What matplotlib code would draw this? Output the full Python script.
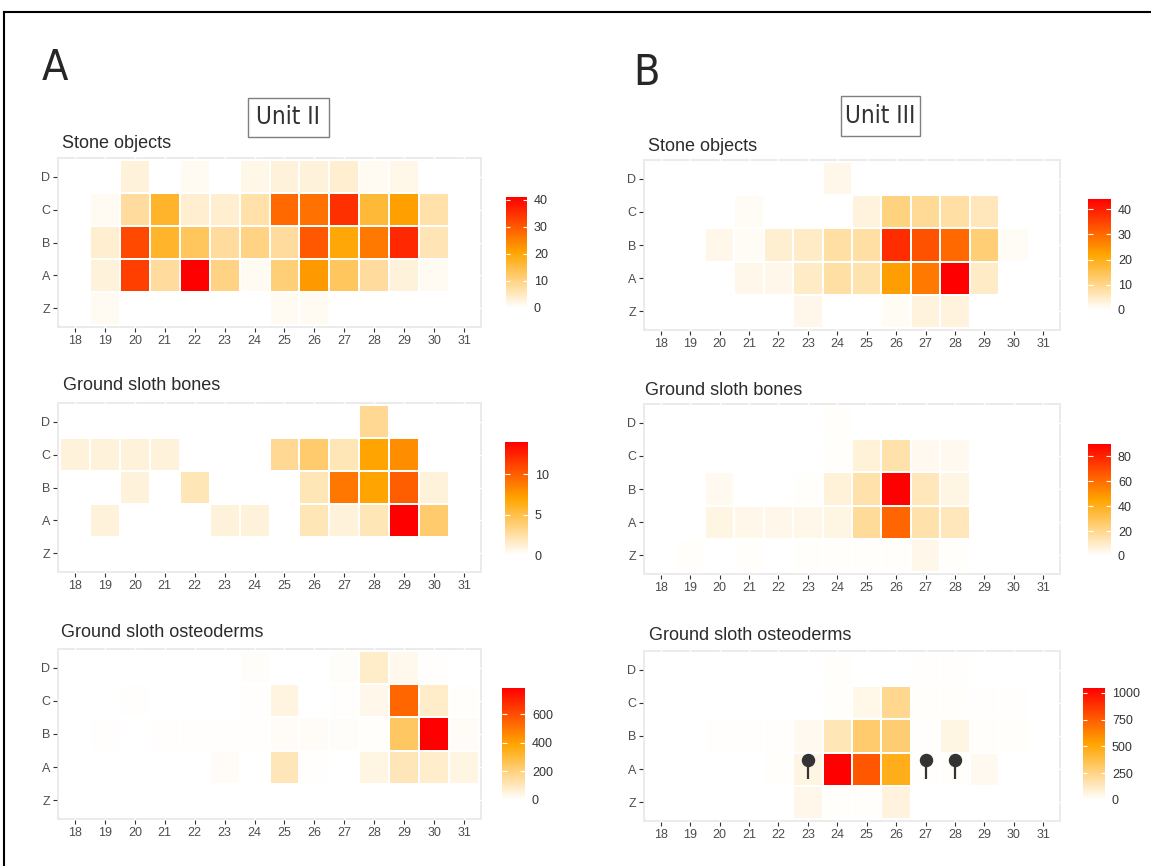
import numpy as np
import matplotlib
matplotlib.use("Agg")
import matplotlib.pyplot as plt
from matplotlib.colors import LinearSegmentedColormap
from matplotlib.patches import Rectangle
from matplotlib.lines import Line2D

plt.rcParams['font.family'] = ['Liberation Sans', 'DejaVu Sans']

#################  Data (rows top -> bottom: D, C, B, A, Z)  #################

cols = list(range(18, 32))
rows = ["Z", "A", "B", "C", "D"]   # bottom -> top on the axis

stone_II = [
    [0, 0, 3, 0, 1, 0, 2, 3, 3, 4, 1, 2, 0, 0],
    [0, 1, 8, 17, 4, 4, 7, 28, 27, 35, 16, 21, 7, 0],
    [0, 4, 32, 17, 13, 8, 10, 8, 30, 20, 26, 36, 6, 0],
    [0, 3, 33, 8, 41, 10, 1, 11, 22, 13, 8, 3, 1, 0],
    [0, 1, 0, 0, 0, 0, 0, 1, 1, 0, 0, 0, 0, 0],
]
bones_II = [
    [0, 0, 0, 0, 0, 0, 0, 0, 0, 0, 3, 0, 0, 0],
    [1, 1, 1, 1, 0, 0, 0, 3, 4, 2, 7, 8, 0, 0],
    [0, 0, 1, 0, 2, 0, 0, 0, 2, 9, 7, 10, 1, 0],
    [0, 1, 0, 0, 0, 1, 1, 0, 2, 1, 2, 14, 4, 0],
    [0, 0, 0, 0, 0, 0, 0, 0, 0, 0, 0, 0, 0, 0],
]
osteo_II = [
    [0, 0, 0, 0, 0, 0, 10, 0, 0, 10, 85, 30, 5, 0],
    [0, 0, 5, 0, 0, 0, 5, 50, 0, 5, 35, 540, 85, 8],
    [0, 5, 0, 5, 5, 5, 5, 15, 15, 10, 8, 245, 785, 15],
    [0, 3, 0, 0, 0, 15, 0, 110, 5, 0, 45, 110, 80, 45],
    [0, 0, 0, 0, 0, 0, 0, 0, 0, 0, 0, 0, 0, 0],
]
stone_III = [
    [0, 0, 0, 0, 0, 0, 2, 0, 0, 0, 0, 0, 0, 0],
    [0, 0, 0, 1, 0, 0, 0, 3, 11, 9, 8, 6, 0, 0],
    [0, 0, 2, 1, 4, 5, 8, 8, 38, 33, 30, 12, 1, 0],
    [0, 0, 0, 2, 2, 5, 8, 7, 23, 28, 44, 5, 0, 0],
    [0, 0, 0, 0, 0, 2, 0, 0, 1, 3, 3, 0, 0, 0],
]
bones_III = [
    [0, 0, 0, 0, 0, 0, 1, 0, 0, 0, 0, 0, 0, 0],
    [0, 0, 0, 0, 0, 0, 1, 7, 15, 3, 3, 0, 0, 0],
    [0, 0, 3, 0, 0, 1, 7, 15, 90, 12, 5, 0, 0, 0],
    [0, 0, 5, 4, 4, 4, 5, 18, 62, 15, 12, 0, 0, 0],
    [0, 1, 0, 1, 0, 1, 1, 1, 1, 4, 1, 0, 0, 0],
]
osteo_III = [
    [0, 0, 0, 0, 0, 0, 10, 0, 0, 5, 5, 0, 0, 0],
    [0, 0, 0, 0, 0, 0, 10, 50, 230, 10, 10, 5, 5, 0],
    [0, 0, 5, 5, 5, 35, 150, 300, 290, 8, 60, 10, 10, 0],
    [0, 0, 0, 0, 10, 60, 1045, 770, 470, 8, 10, 35, 0, 0],
    [0, 0, 0, 0, 0, 45, 10, 10, 70, 0, 0, 0, 0, 0],
]

cb_ticks_stone_II = [0, 10, 20, 30, 40]
cb_ticks_bones_II = [0, 5, 10]
cb_ticks_osteo_II = [0, 200, 400, 600]
cb_ticks_stone_III = [0, 10, 20, 30, 40]
cb_ticks_bones_III = [0, 20, 40, 60, 80]
cb_ticks_osteo_III = [0, 250, 500, 750, 1000]

pin_cols = [23, 27, 28]   # markers in Unit III osteoderms, row A

#################  Figure  #################

W, H = 1151, 866
fig = plt.figure(figsize=(W / 100, H / 100), dpi=100)
cmap = LinearSegmentedColormap.from_list("wor", [(0, "white"), (0.5, "#FFA500"), (1, "#FF0000")])


def px_axes(l, t, r, b):
    return fig.add_axes([l / W, 1 - b / H, (r - l) / W, (b - t) / H])


def heat(box, cbox, data, ticks, title, tpos):
    ax = px_axes(*box)
    z = np.flipud(np.array(data, dtype=float))
    xe = np.arange(17.5, 32, 1)
    ye = np.arange(0.5, 6, 1)
    ax.set_facecolor("#EBEBEB")
    ax.set_axisbelow(True)
    ax.grid(True, color="white", lw=1)
    m = ax.pcolormesh(xe, ye, z, cmap=cmap, vmin=0, vmax=z.max(),
                      edgecolors="white", linewidth=0.25)
    ax.set_xlim(17.4, 31.6)
    ax.set_ylim(0.4, 5.6)
    ax.set_xticks(cols)
    ax.set_yticks(range(1, 6))
    ax.set_yticklabels(rows)
    for s in ax.spines.values():
        s.set_visible(False)
    ax.tick_params(length=3, color="#333333", labelcolor="#4D4D4D", labelsize=9, pad=2)
    fig.text(tpos[0] / W, 1 - tpos[1] / H, title, fontsize=13, color="#2B2B2B", va="baseline")

    cax = px_axes(*cbox)
    cb = fig.colorbar(m, cax=cax)
    cb.outline.set_visible(False)
    cb.set_ticks(ticks)
    cax.tick_params(length=0, labelsize=9, labelcolor="#333333", pad=5)
    cax.hlines(ticks, 0, 0.2, colors="white", lw=0.8)
    cax.hlines(ticks, 0.8, 1, colors="white", lw=0.8)
    return ax


heat((57, 157, 482, 328), (506, 197, 527, 308), stone_II, cb_ticks_stone_II, "Stone objects", (62, 148))
heat((57, 402, 482, 573), (505, 442, 528, 555), bones_II, cb_ticks_bones_II, "Ground sloth bones", (63, 390))
heat((57, 648, 482, 820), (502, 688, 525, 800), osteo_II, cb_ticks_osteo_II, "Ground sloth osteoderms", (61, 637))
heat((643, 159, 1061, 331), (1088, 199, 1111, 310), stone_III, cb_ticks_stone_III, "Stone objects", (648, 151))
heat((643, 403, 1061, 575), (1088, 444, 1111, 556), bones_III, cb_ticks_bones_III, "Ground sloth bones", (645, 395))
ax6 = heat((643, 650, 1061, 822), (1083, 688, 1105, 800), osteo_III, cb_ticks_osteo_III, "Ground sloth osteoderms", (649, 640))

# pins on row A
for c in pin_cols:
    ax6.plot([c, c], [1.7, 2.27], color="#333333", lw=1.6, solid_capstyle="butt", zorder=5)
ax6.scatter(pin_cols, [2.27] * len(pin_cols), s=75, color="#333333", zorder=6)

# panel labels and unit boxes
narrow = dict(family="DejaVu Sans", fontstretch="condensed")
fig.text(42 / W, 1 - 80 / H, "A", fontsize=31, color="#262626", va="baseline", **narrow)
fig.text(633 / W, 1 - 85 / H, "B", fontsize=31, color="#262626", va="baseline", **narrow)

for (l, t, r, b), lab in [((248, 98, 329, 137), "Unit II"), ((841, 96, 920, 136), "Unit III")]:
    fig.add_artist(Rectangle((l / W, 1 - b / H), (r - l) / W, (b - t) / H,
                             transform=fig.transFigure, fill=False, ec="#7F7F7F", lw=1))
    fig.text((l + r) / 2 / W, 1 - (t + b) / 2 / H, lab, fontsize=17.5, color="#333333",
             ha="center", va="center", **narrow)

# outer frame (left and top edges)
fig.add_artist(Line2D([4 / W, 4 / W], [0, 1 - 12 / H], transform=fig.transFigure, color="black", lw=1.5))
fig.add_artist(Line2D([4 / W, 1], [1 - 12 / H, 1 - 12 / H], transform=fig.transFigure, color="black", lw=1.5))

fig.savefig("out.png", dpi=100)
